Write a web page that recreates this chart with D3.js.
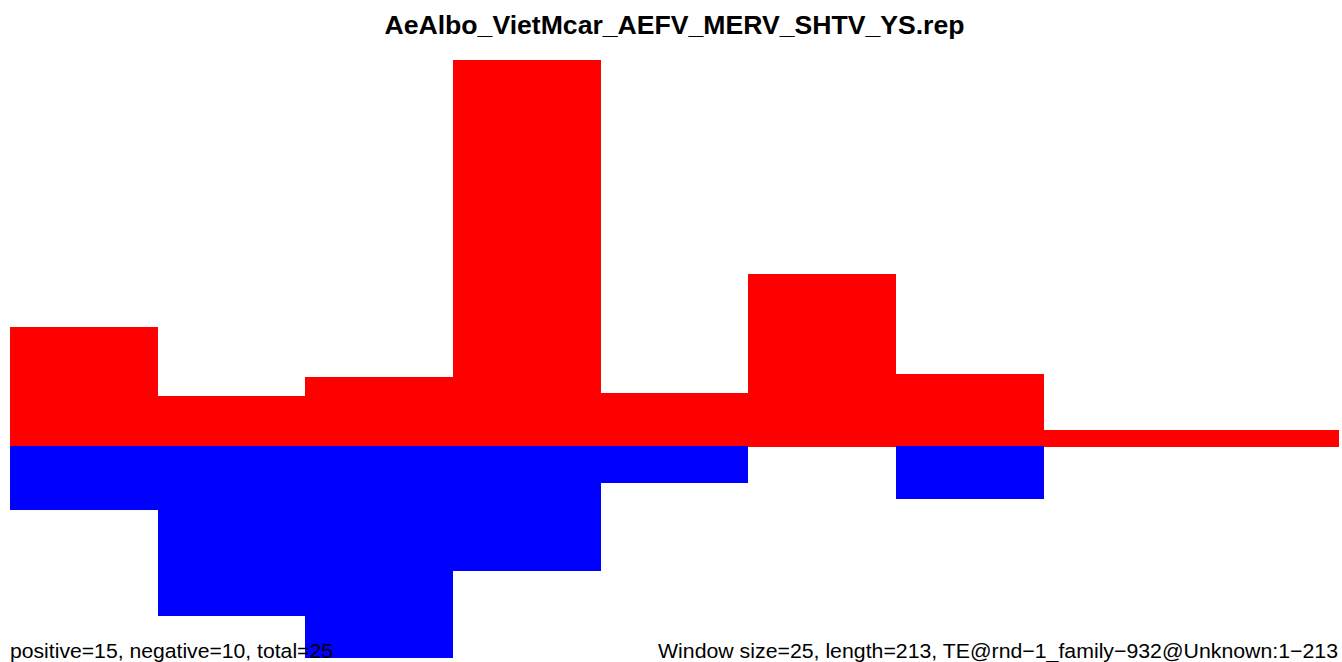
<!DOCTYPE html>
<html>
<head>
<meta charset="utf-8">
<script src="https://cdn.jsdelivr.net/npm/d3@7"></script>
<style>
  html, body { margin: 0; padding: 0; background: #fff; }
  svg { display: block; }
</style>
</head>
<body>
<div id="chart"></div>
<script>
// window starts (bp), window size 25
const windowStarts = [0, 25, 50, 75, 100, 125, 150, 175, 200];
const windowSize = 25;
// positive strand (red) and negative strand (blue) values per window
const positiveValues = [11.9, 5.0, 6.9, 38.6, 5.3, 17.2, 7.2, 1.6, 1.6];
const negativeValues = [6.4, 17.0, 21.2, 12.5, 3.7, 0, 5.3, 0, 0];

const titleText = 'AeAlbo_VietMcar_AEFV_MERV_SHTV_YS.rep';
const leftNote = 'positive=15, negative=10, total=25';
const rightNote = 'Window size=25, length=213, TE@rnd\u22121_family\u2212932@Unknown:1\u2212213';

const width = 1342;
const height = 662;
const margins = { top: 60, right: 3, bottom: 4, left: 10 };
const FONT = '"Liberation Sans", Arial, Helvetica, sans-serif';

const svg = d3.select('#chart')
    .append('svg')
    .attr('width', width)
    .attr('height', height)
    .attr('viewBox', `0 0 ${width} ${height}`);

const xScale = d3.scaleLinear()
    .domain([0, windowStarts.length * windowSize])
    .range([margins.left, width - margins.right]);

const yScale = d3.scaleLinear()
    .domain([-d3.max(negativeValues), d3.max(positiveValues)])
    .range([height - margins.bottom, margins.top]);

const data = windowStarts.map((s, i) => ({
    start: s,
    pos: positiveValues[i],
    neg: negativeValues[i]
}));

// positive bars
svg.append('g')
    .selectAll('rect')
    .data(data)
    .join('rect')
    .attr('x', d => xScale(d.start))
    .attr('width', d => xScale(d.start + windowSize) - xScale(d.start))
    .attr('y', d => yScale(d.pos))
    .attr('height', d => yScale(0) - yScale(d.pos) + 0.5)
    .attr('fill', '#ff0000')
    .attr('shape-rendering', 'crispEdges');

// negative bars
svg.append('g')
    .selectAll('rect')
    .data(data.filter(d => d.neg > 0))
    .join('rect')
    .attr('x', d => xScale(d.start))
    .attr('width', d => xScale(d.start + windowSize) - xScale(d.start))
    .attr('y', yScale(0))
    .attr('height', d => yScale(-d.neg) - yScale(0))
    .attr('fill', '#0000ff')
    .attr('shape-rendering', 'crispEdges');

// title
svg.append('text')
    .attr('x', (xScale.range()[0] + xScale.range()[1]) / 2)
    .attr('y', 34)
    .attr('text-anchor', 'middle')
    .attr('textLength', 580)
    .attr('lengthAdjust', 'spacingAndGlyphs')
    .style('font-family', FONT)
    .style('font-size', '25px')
    .style('font-weight', 'bold')
    .text(titleText);

// footnotes
svg.append('text')
    .attr('x', 10)
    .attr('y', 658)
    .attr('text-anchor', 'start')
    .attr('textLength', 323)
    .attr('lengthAdjust', 'spacingAndGlyphs')
    .style('font-family', FONT)
    .style('font-size', '20.5px')
    .text(leftNote);

svg.append('text')
    .attr('x', 1338)
    .attr('y', 658)
    .attr('text-anchor', 'end')
    .attr('textLength', 680)
    .attr('lengthAdjust', 'spacingAndGlyphs')
    .style('font-family', FONT)
    .style('font-size', '20.5px')
    .text(rightNote);
</script>
</body>
</html>
